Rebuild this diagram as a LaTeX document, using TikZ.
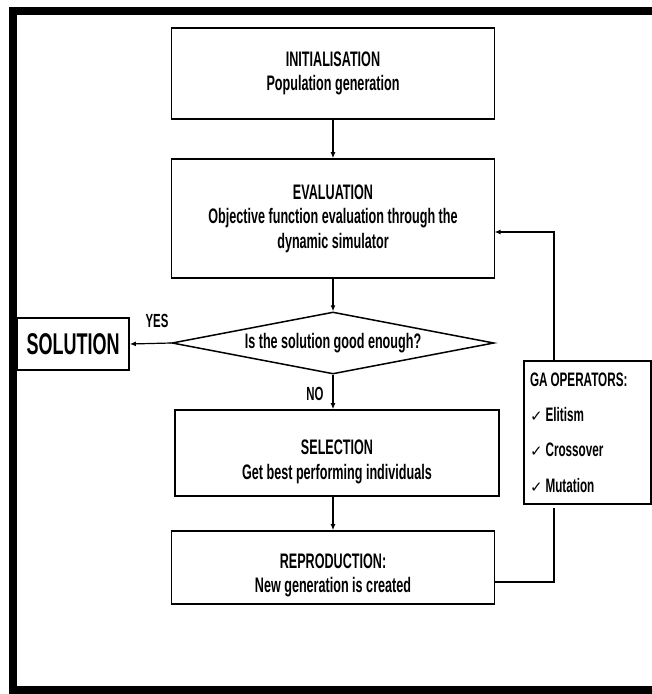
\documentclass[tikz,border=0pt]{standalone}
\usepackage{fontspec}
\setmainfont[FakeStretch=0.6]{Liberation Sans}
\newfontfamily\ckf{DejaVu Sans}
\usetikzlibrary{shapes.geometric,arrows.meta}
\newcommand{\dnshift}[2]{\raisebox{-#1}[\height][\depth]{#2}}
\newcommand{\ck}{{\ckf\fontsize{15}{35.3}\selectfont ✓}\hspace{3pt}}
\begin{document}
\begin{tikzpicture}[x=1pt,y=-1pt,
  box/.style={draw,line width=1.6pt,inner sep=0pt,align=center,
    font=\fontsize{21}{24.5}\selectfont\bfseries},
  arr/.style={line width=1.2pt,-{Latex[length=6pt,width=5pt]}},
  ln/.style={line width=1.2pt},
  lbl/.style={font=\fontsize{19}{20}\selectfont\bfseries,inner sep=0pt}]
\useasboundingbox (0,0) rectangle (652,694);
\fill[white] (0,0) rectangle (652,694);
% outer frame
\draw[line width=8pt] (652,11) -- (13,11) -- (13,690) -- (652,690);

\node[box,minimum width=323pt,minimum height=91pt] (init) at (333,73.5)
  {INITIALISATION\\Population generation};
\node[box,minimum width=323pt,minimum height=119pt] (eval) at (333,218.5)
  {EVALUATION\\Objective function evaluation through the\\dynamic simulator};
\node[diamond,draw,line width=1.5pt,minimum width=322pt,minimum height=62pt,
  aspect=5.2,inner sep=0pt,font=\fontsize{21}{24}\selectfont\bfseries] (dia) at (333,343)
  {Is the solution good enough?};
\node[box,minimum width=324pt,minimum height=86pt] (sel) at (337,453)
  {\dnshift{9pt}{\begin{tabular}{@{}c@{}}SELECTION\\Get best performing individuals\end{tabular}}};
\node[box,minimum width=323pt,minimum height=73pt] (repro) at (333,567.5)
  {\dnshift{8pt}{\begin{tabular}{@{}c@{}}REPRODUCTION:\\New generation is created\end{tabular}}};
\node[draw,line width=1.6pt,minimum width=112pt,minimum height=52pt,inner sep=0pt,
  font=\fontsize{30}{32}\selectfont\bfseries] (sol) at (73,344) {SOLUTION};
\node[draw,line width=1.6pt,minimum width=127pt,minimum height=143pt,text width=115pt,
  inner xsep=6pt,inner ysep=0pt,align=left,
  font=\fontsize{19.5}{35.3}\selectfont\bfseries] (ga) at (587.5,432.5)
  {GA\hspace{3pt}OPERATORS:\\
   \ck Elitism\\
   \ck Crossover\\
   \ck Mutation};

\node[lbl] (yes) at (157,321) {YES};
\node[lbl] (no) at (315,394) {NO};

\coordinate (gatop) at (554,361);
\coordinate (gabot) at (554,508);
\coordinate (fbin) at (494.5,232);
\coordinate (rjoin) at (494.5,582);

\draw[arr] (init) -- (eval);
\draw[arr] (eval) -- (dia);
\draw[arr] (dia.south) -- (dia.south |- sel.north);
\draw[arr] (sel.south -| repro.north) -- (repro.north);
\draw[arr] (dia.west) -- (sol.east);
\draw[arr] (gatop) |- (fbin);
\draw[ln] (gabot) |- (rjoin);
\end{tikzpicture}
\end{document}
